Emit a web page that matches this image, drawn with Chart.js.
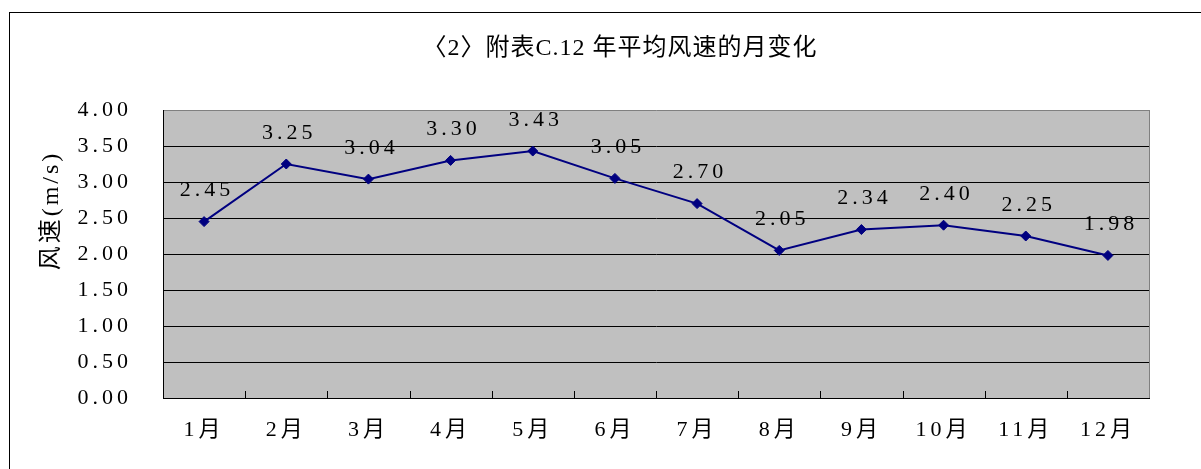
<!DOCTYPE html>
<html>
<head>
<meta charset="utf-8">
<title>年平均风速的月变化</title>
<script src="https://cdn.jsdelivr.net/npm/chart.js@4.4.1/dist/chart.umd.min.js"></script>
<style>
  html, body { margin: 0; padding: 0; background: #fff; overflow: hidden; }
  #frame { position: absolute; left: 9px; top: 12px; width: 1400px; height: 700px; border: 1px solid #000; }
  #wrap { position: absolute; left: 0; top: 0; width: 1201px; height: 469px; }
</style>
</head>
<body>
<div id="frame"></div>
<div id="wrap"><canvas id="c" width="1201" height="469"></canvas></div>
<script>
// Monthly mean wind speed (m/s)
const months = ['1月', '2月', '3月', '4月', '5月', '6月', '7月', '8月', '9月', '10月', '11月', '12月'];
const windSpeed = [2.45, 3.25, 3.04, 3.30, 3.43, 3.05, 2.70, 2.05, 2.34, 2.40, 2.25, 1.98];
const yMin = 0;
const yMax = 4;
const yStep = 0.5;
const chartTitle = '〈2〉附表C.12 年平均风速的月变化';
const yAxisTitle = '风速(m/s)';

const SERIF = '"Liberation Serif", "Noto Sans CJK SC", serif';
const LINE_COLOR = '#000080';
const NUM_SPACING = 4;   // wide, typewriter-like spacing for numbers and month labels

// Plot background, frame edges, inward category ticks, value labels and titles
const decor = {
  id: 'decor',
  beforeDraw(chart) {
    const { ctx, chartArea: a } = chart;
    ctx.save();
    ctx.fillStyle = '#c0c0c0';
    ctx.fillRect(a.left, a.top, a.right - a.left, a.bottom - a.top);
    ctx.strokeStyle = '#808080';
    ctx.lineWidth = 1;
    ctx.beginPath();
    ctx.moveTo(a.right + 0.5, a.top);
    ctx.lineTo(a.right + 0.5, a.bottom);
    ctx.stroke();
    ctx.restore();
    ctx.letterSpacing = NUM_SPACING + 'px';   // tick labels
  },
  afterDatasetsDraw(chart) {
    const { ctx, chartArea: a } = chart;
    const xs = chart.scales.x;
    ctx.save();
    // short tick marks between categories, pointing into the plot
    ctx.strokeStyle = '#000';
    ctx.lineWidth = 1;
    ctx.beginPath();
    for (let i = 0; i < months.length - 1; i++) {
      const x = Math.round((xs.getPixelForValue(i) + xs.getPixelForValue(i + 1)) / 2) + 0.5;
      ctx.moveTo(x, a.bottom);
      ctx.lineTo(x, a.bottom - 7);
    }
    ctx.stroke();

    // value labels above each point
    const meta = chart.getDatasetMeta(0);
    ctx.letterSpacing = NUM_SPACING + 'px';
    ctx.font = '22px ' + SERIF;
    ctx.fillStyle = '#000';
    ctx.textAlign = 'center';
    ctx.textBaseline = 'middle';
    meta.data.forEach((pt, i) => {
      ctx.fillText(windSpeed[i].toFixed(2), pt.x + 1 + NUM_SPACING / 2, pt.y - 31);
    });
    ctx.restore();
  },
  afterDraw(chart) {
    const { ctx, chartArea: a } = chart;
    ctx.save();
    ctx.fillStyle = '#000';
    ctx.textAlign = 'center';
    ctx.textBaseline = 'middle';

    // chart title
    ctx.letterSpacing = '1px';
    ctx.font = '24px ' + SERIF;
    ctx.fillText(chartTitle, (a.left + a.right) / 2 - 36, a.top - 61);

    // vertical axis title
    ctx.letterSpacing = '3px';
    ctx.translate(a.left - 111, a.top + 102);
    ctx.rotate(-Math.PI / 2);
    ctx.fillText(yAxisTitle, 1.5, 0);
    ctx.restore();
    ctx.letterSpacing = '0px';
  }
};

new Chart(document.getElementById('c'), {
  type: 'line',
  data: {
    labels: months,
    datasets: [{
      data: windSpeed,
      borderColor: LINE_COLOR,
      backgroundColor: LINE_COLOR,
      borderWidth: 2,
      pointStyle: 'rectRot',
      pointRadius: 5,
      pointBorderWidth: 1,
      pointBackgroundColor: LINE_COLOR,
      pointBorderColor: LINE_COLOR,
      tension: 0,
      clip: false
    }]
  },
  options: {
    responsive: false,
    devicePixelRatio: 1,
    animation: false,
    layout: { padding: { left: 0, right: 52, top: 110, bottom: 0 } },
    plugins: {
      legend: { display: false },
      tooltip: { enabled: false },
      title: { display: false }
    },
    scales: {
      x: {
        type: 'category',
        offset: true,
        grid: { drawOnChartArea: false, drawTicks: false, offset: true },
        border: { display: true, color: '#000', width: 1 },
        ticks: {
          color: '#000',
          padding: 19,
          maxRotation: 0,
          autoSkip: false,
          font: { family: SERIF, size: 22 }
        },
        afterFit(scale) { scale.height = 71; }
      },
      y: {
        min: yMin,
        max: yMax,
        grid: {
          drawTicks: false,
          color: (c) => (c.tick && c.tick.value === yMax ? '#808080' : '#000'),
          lineWidth: 1
        },
        border: { display: true, color: '#000', width: 1 },
        ticks: {
          stepSize: yStep,
          color: '#000',
          padding: 35 - NUM_SPACING,
          font: { family: SERIF, size: 22 },
          callback: (v) => Number(v).toFixed(2)
        },
        afterFit(scale) { scale.width = 163; }
      }
    }
  },
  plugins: [decor]
});
</script>
</body>
</html>
